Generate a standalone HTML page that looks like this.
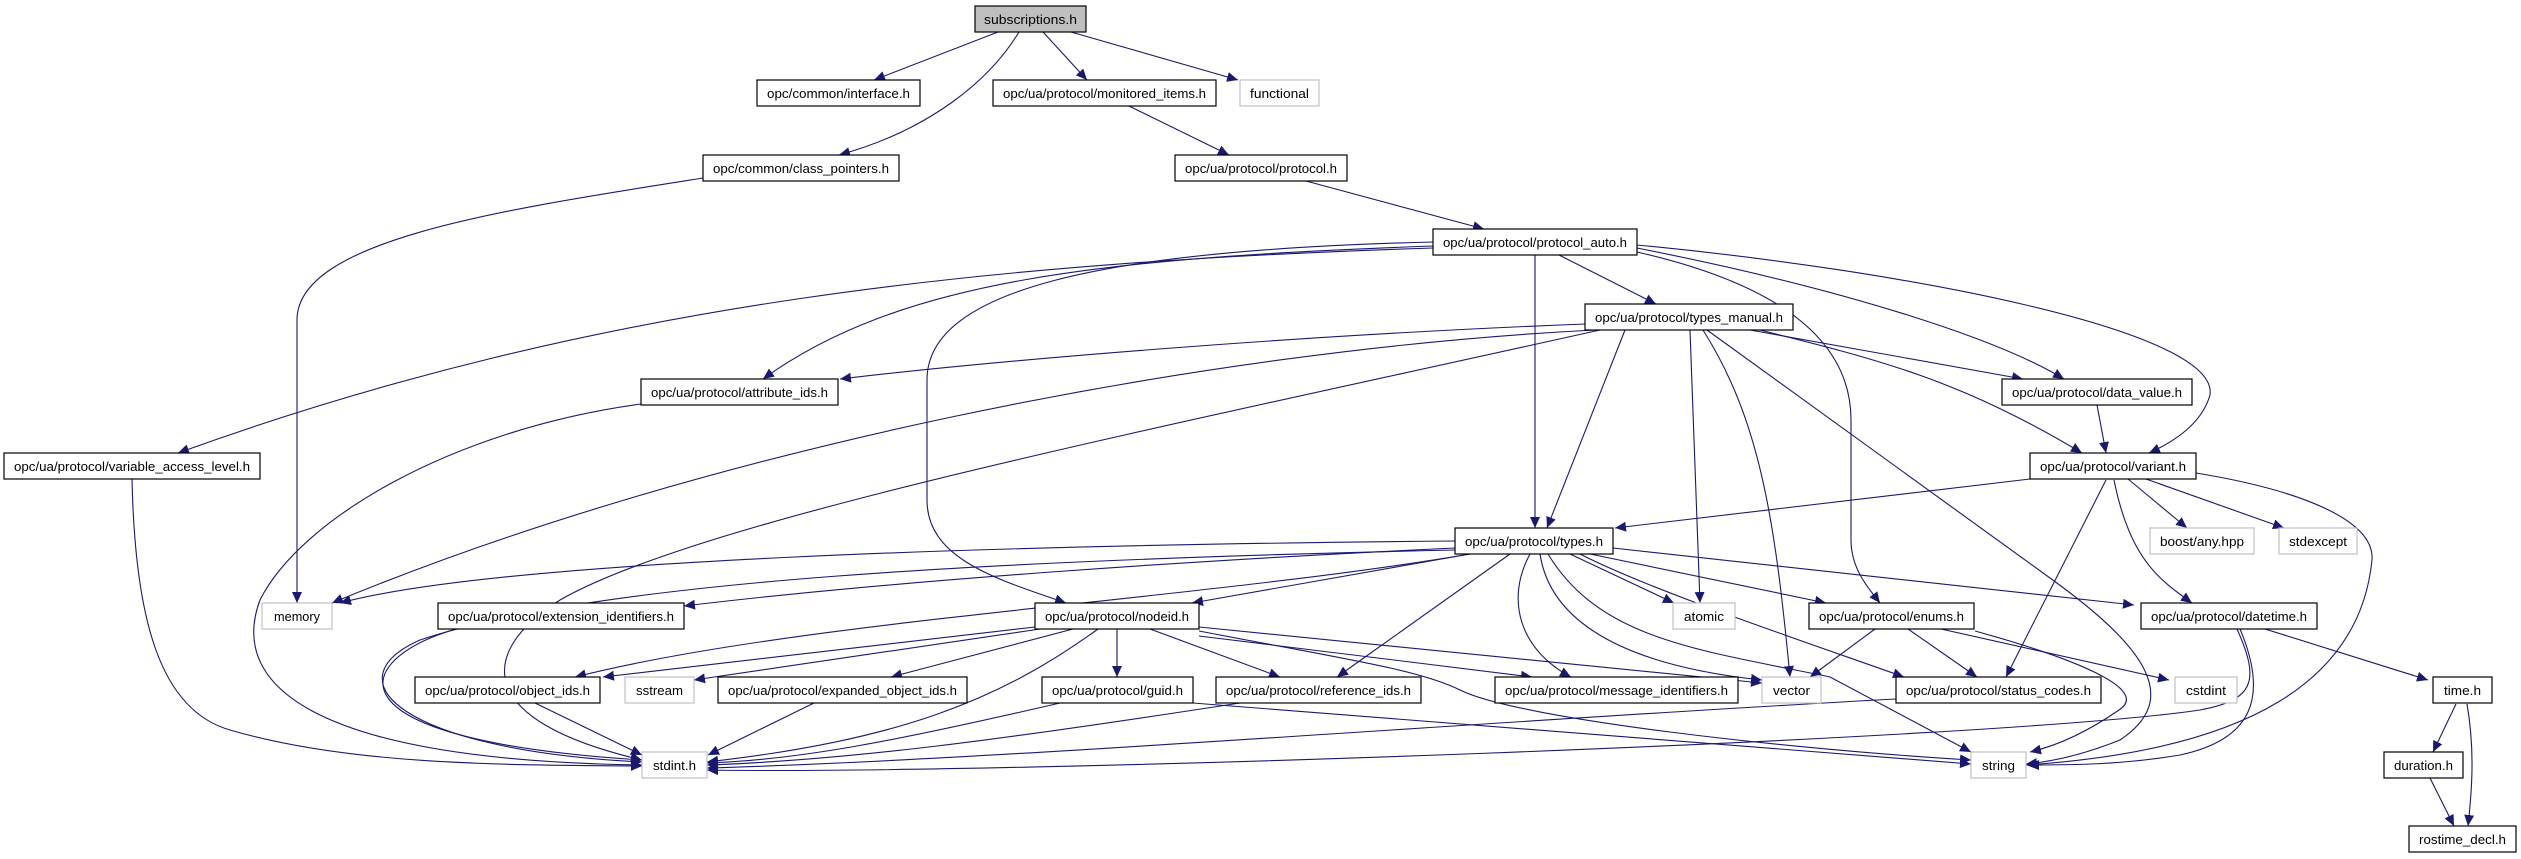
<!DOCTYPE html>
<html><head><meta charset="utf-8"><style>
html,body{margin:0;padding:0;background:#fff;}
svg{display:block;}
text{font-family:"Liberation Sans",sans-serif;font-size:13px;fill:#000;}
.n{fill:#fff;stroke:#000;stroke-width:1.2;}
.g{fill:#fff;stroke:#c0c0c0;stroke-width:1.2;}
.e{fill:none;stroke:#191970;stroke-width:1.1;}
</style></head><body>
<svg width="2521" height="859" viewBox="0 0 2521 859" xmlns="http://www.w3.org/2000/svg">
<defs><marker id="a" markerUnits="userSpaceOnUse" markerWidth="12" markerHeight="10" refX="11" refY="5" orient="auto"><path d="M0,0 L11,5 L0,10 z" fill="#191970"/></marker></defs>
<g class="e" marker-end="url(#a)">
<path d="M998,32 L874,80"/>
<path d="M1019,32 C990,80 930,130 839,155"/>
<path d="M1043,32 L1087,80"/>
<path d="M1071,32 L1238,80"/>
<path d="M1129,106 L1229,155"/>
<path d="M1306,181 L1484,229"/>
<path d="M703,178 C500,210 297,240 297,320 L297,603"/>
<path d="M1433,248 C1000,262 600,300 178,453"/>
<path d="M1433,246 C1100,258 900,280 763,379"/>
<path d="M1433,242 C1100,250 927,290 927,380 L927,500 C927,560 1000,580 1066,603"/>
<path d="M1535,255 L1535,528"/>
<path d="M1559,255 L1656,304"/>
<path d="M1637,248 C1850,290 2000,340 2064,379"/>
<path d="M1637,245 C1900,270 2220,330 2210,395 Q2200,430 2149,453"/>
<path d="M1637,252 C1760,280 1851,330 1851,420 L1851,540 C1851,570 1870,590 1880,603"/>
<path d="M1585,324 C1300,335 1000,360 840,379"/>
<path d="M1595,330 C1200,350 700,450 332,603"/>
<path d="M1600,330 C1150,430 700,520 560,600 C480,650 470,720 642,760"/>
<path d="M1625,330 L1547,528"/>
<path d="M1690,330 L1700,603"/>
<path d="M1703,330 C1760,420 1775,520 1790,677"/>
<path d="M1707,330 L2050,578 C2150,650 2180,700 2120,740 Q2070,760 2026,764"/>
<path d="M1750,330 L2023,379"/>
<path d="M1760,330 C1880,360 1960,380 2082,453"/>
<path d="M641,404 C450,430 300,520 260,600 C230,680 300,760 642,765"/>
<path d="M132,479 C135,620 160,710 230,730 C350,765 500,765 642,766"/>
<path d="M2097,405 L2106,453"/>
<path d="M2030,479 L1615,528"/>
<path d="M2128,479 L2187,528"/>
<path d="M2146,479 L2284,528"/>
<path d="M2114,480 C2130,560 2160,580 2192,603"/>
<path d="M2106,480 L2006,677"/>
<path d="M2196,473 C2300,490 2375,520 2372,560 C2360,680 2250,750 2026,765"/>
<path d="M1455,541 C1000,545 500,560 340,603"/>
<path d="M1455,548 C1200,560 900,580 684,606"/>
<path d="M1455,550 C1000,560 600,580 420,640 C330,680 400,750 642,762"/>
<path d="M1470,554 L1192,603"/>
<path d="M1470,554 C1200,600 800,620 575,677"/>
<path d="M1510,554 L1337,677"/>
<path d="M1530,554 C1505,600 1520,650 1571,677"/>
<path d="M1540,554 C1550,620 1620,665 1762,680"/>
<path d="M1548,554 C1600,640 1700,650 1830,677 L1971,752"/>
<path d="M1570,554 L1674,603"/>
<path d="M1590,554 L1826,603"/>
<path d="M1580,554 C1650,590 1800,640 1904,677"/>
<path d="M1613,548 L2134,605"/>
<path d="M456,629 C350,660 320,740 642,760"/>
<path d="M1098,629 C1000,700 900,740 707,762"/>
<path d="M1117,629 L1117,677"/>
<path d="M1150,629 L1280,677"/>
<path d="M1199,636 L1532,677"/>
<path d="M1199,627 L1762,683"/>
<path d="M1199,631 C1350,660 1420,670 1460,690 C1520,720 1800,750 1971,760"/>
<path d="M1035,627 L603,677"/>
<path d="M1040,629 L694,680"/>
<path d="M1073,629 L891,677"/>
<path d="M535,703 L642,755"/>
<path d="M814,703 L708,755"/>
<path d="M1060,703 C900,740 800,760 707,763"/>
<path d="M1193,703 L1971,764"/>
<path d="M1240,703 C1000,740 850,760 707,765"/>
<path d="M1875,629 L1810,677"/>
<path d="M1908,629 L1977,677"/>
<path d="M1941,629 L2169,680"/>
<path d="M1975,631 C2080,660 2150,690 2119,710 C2090,730 2060,745 2030,752"/>
<path d="M1896,699 C1500,720 1000,760 707,768"/>
<path d="M2265,629 L2428,680"/>
<path d="M2237,629 C2260,680 2255,700 2200,710 C2000,740 1000,775 707,770"/>
<path d="M2240,629 C2270,700 2250,740 2180,755 C2120,765 2070,765 2028,765"/>
<path d="M2456,704 L2433,752"/>
<path d="M2467,704 C2475,750 2472,790 2468,826"/>
<path d="M2430,778 L2454,826"/>
</g>
<g>
<rect x="975" y="6" width="111" height="26" fill="#bfbfbf" stroke="#000" stroke-width="1.2"/><text x="1030.5" y="24" text-anchor="middle" textLength="93" lengthAdjust="spacingAndGlyphs">subscriptions.h</text>
<rect class="n" x="757" y="80" width="163" height="26"/><text x="838.5" y="98" text-anchor="middle" textLength="143" lengthAdjust="spacingAndGlyphs">opc/common/interface.h</text>
<rect class="n" x="993" y="80" width="223" height="26"/><text x="1104.5" y="98" text-anchor="middle" textLength="203" lengthAdjust="spacingAndGlyphs">opc/ua/protocol/monitored_items.h</text>
<rect class="g" x="1240" y="80" width="79" height="26"/><text x="1279.5" y="98" text-anchor="middle" textLength="59" lengthAdjust="spacingAndGlyphs">functional</text>
<rect class="n" x="703" y="155" width="196" height="26"/><text x="801" y="173" text-anchor="middle" textLength="176" lengthAdjust="spacingAndGlyphs">opc/common/class_pointers.h</text>
<rect class="n" x="1175" y="155" width="172" height="26"/><text x="1261" y="173" text-anchor="middle" textLength="152" lengthAdjust="spacingAndGlyphs">opc/ua/protocol/protocol.h</text>
<rect class="n" x="1433" y="229" width="204" height="26"/><text x="1535" y="247" text-anchor="middle" textLength="184" lengthAdjust="spacingAndGlyphs">opc/ua/protocol/protocol_auto.h</text>
<rect class="n" x="1585" y="304" width="208" height="26"/><text x="1689" y="322" text-anchor="middle" textLength="188" lengthAdjust="spacingAndGlyphs">opc/ua/protocol/types_manual.h</text>
<rect class="n" x="641" y="379" width="197" height="26"/><text x="739.5" y="397" text-anchor="middle" textLength="177" lengthAdjust="spacingAndGlyphs">opc/ua/protocol/attribute_ids.h</text>
<rect class="n" x="2002" y="379" width="190" height="26"/><text x="2097" y="397" text-anchor="middle" textLength="170" lengthAdjust="spacingAndGlyphs">opc/ua/protocol/data_value.h</text>
<rect class="n" x="4" y="453" width="256" height="26"/><text x="132" y="471" text-anchor="middle" textLength="236" lengthAdjust="spacingAndGlyphs">opc/ua/protocol/variable_access_level.h</text>
<rect class="n" x="2030" y="453" width="166" height="26"/><text x="2113" y="471" text-anchor="middle" textLength="146" lengthAdjust="spacingAndGlyphs">opc/ua/protocol/variant.h</text>
<rect class="n" x="1455" y="528" width="158" height="26"/><text x="1534" y="546" text-anchor="middle" textLength="138" lengthAdjust="spacingAndGlyphs">opc/ua/protocol/types.h</text>
<rect class="g" x="2150" y="528" width="104" height="26"/><text x="2202" y="546" text-anchor="middle" textLength="84" lengthAdjust="spacingAndGlyphs">boost/any.hpp</text>
<rect class="g" x="2279" y="528" width="78" height="26"/><text x="2318" y="546" text-anchor="middle" textLength="58" lengthAdjust="spacingAndGlyphs">stdexcept</text>
<rect class="g" x="262" y="603" width="70" height="26"/><text x="297" y="621" text-anchor="middle" textLength="46" lengthAdjust="spacingAndGlyphs">memory</text>
<rect class="n" x="438" y="603" width="246" height="26"/><text x="561" y="621" text-anchor="middle" textLength="226" lengthAdjust="spacingAndGlyphs">opc/ua/protocol/extension_identifiers.h</text>
<rect class="n" x="1035" y="603" width="164" height="26"/><text x="1117" y="621" text-anchor="middle" textLength="144" lengthAdjust="spacingAndGlyphs">opc/ua/protocol/nodeid.h</text>
<rect class="g" x="1673" y="603" width="62" height="26"/><text x="1704" y="621" text-anchor="middle" textLength="40" lengthAdjust="spacingAndGlyphs">atomic</text>
<rect class="n" x="1809" y="603" width="165" height="26"/><text x="1891.5" y="621" text-anchor="middle" textLength="145" lengthAdjust="spacingAndGlyphs">opc/ua/protocol/enums.h</text>
<rect class="n" x="2141" y="603" width="176" height="26"/><text x="2229" y="621" text-anchor="middle" textLength="156" lengthAdjust="spacingAndGlyphs">opc/ua/protocol/datetime.h</text>
<rect class="n" x="415" y="677" width="185" height="26"/><text x="507.5" y="695" text-anchor="middle" textLength="165" lengthAdjust="spacingAndGlyphs">opc/ua/protocol/object_ids.h</text>
<rect class="g" x="625" y="677" width="69" height="26"/><text x="659.5" y="695" text-anchor="middle" textLength="47" lengthAdjust="spacingAndGlyphs">sstream</text>
<rect class="n" x="718" y="677" width="249" height="26"/><text x="842.5" y="695" text-anchor="middle" textLength="229" lengthAdjust="spacingAndGlyphs">opc/ua/protocol/expanded_object_ids.h</text>
<rect class="n" x="1042" y="677" width="151" height="26"/><text x="1117.5" y="695" text-anchor="middle" textLength="131" lengthAdjust="spacingAndGlyphs">opc/ua/protocol/guid.h</text>
<rect class="n" x="1216" y="677" width="205" height="26"/><text x="1318.5" y="695" text-anchor="middle" textLength="185" lengthAdjust="spacingAndGlyphs">opc/ua/protocol/reference_ids.h</text>
<rect class="n" x="1495" y="677" width="243" height="26"/><text x="1616.5" y="695" text-anchor="middle" textLength="223" lengthAdjust="spacingAndGlyphs">opc/ua/protocol/message_identifiers.h</text>
<rect class="g" x="1762" y="677" width="59" height="26"/><text x="1791.5" y="695" text-anchor="middle" textLength="37" lengthAdjust="spacingAndGlyphs">vector</text>
<rect class="n" x="1896" y="677" width="205" height="26"/><text x="1998.5" y="695" text-anchor="middle" textLength="185" lengthAdjust="spacingAndGlyphs">opc/ua/protocol/status_codes.h</text>
<rect class="g" x="2175" y="677" width="62" height="26"/><text x="2206" y="695" text-anchor="middle" textLength="40" lengthAdjust="spacingAndGlyphs">cstdint</text>
<rect class="n" x="2433" y="677" width="59" height="26"/><text x="2462.5" y="695" text-anchor="middle" textLength="37" lengthAdjust="spacingAndGlyphs">time.h</text>
<rect class="g" x="642" y="752" width="65" height="26"/><text x="674.5" y="770" text-anchor="middle" textLength="43" lengthAdjust="spacingAndGlyphs">stdint.h</text>
<rect class="g" x="1971" y="752" width="55" height="26"/><text x="1998.5" y="770" text-anchor="middle" textLength="33" lengthAdjust="spacingAndGlyphs">string</text>
<rect class="n" x="2384" y="752" width="79" height="26"/><text x="2423.5" y="770" text-anchor="middle" textLength="59" lengthAdjust="spacingAndGlyphs">duration.h</text>
<rect class="n" x="2409" y="826" width="107" height="26"/><text x="2462.5" y="844" text-anchor="middle" textLength="87" lengthAdjust="spacingAndGlyphs">rostime_decl.h</text>
</g>
</svg>
</body></html>
